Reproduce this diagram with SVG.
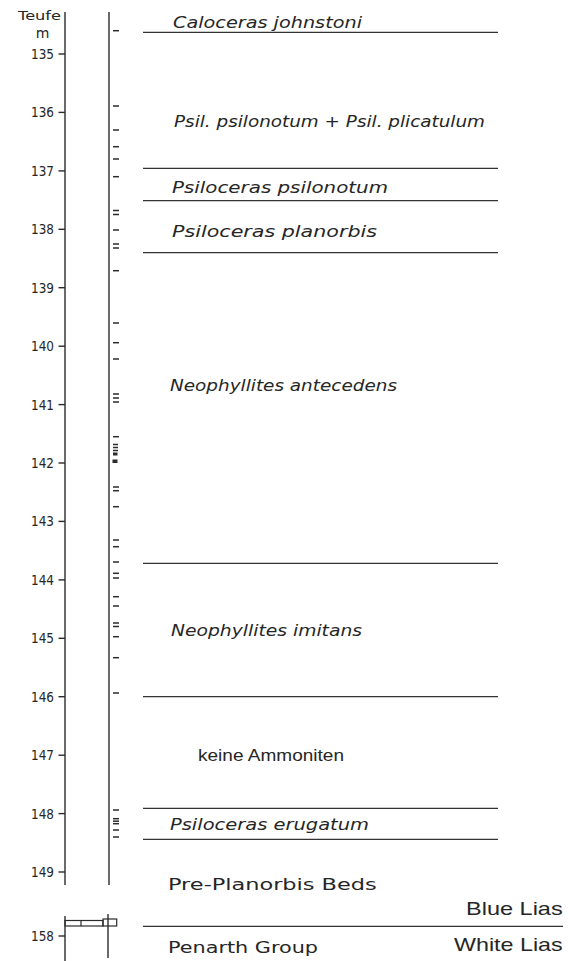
<svg xmlns="http://www.w3.org/2000/svg" width="568" height="961" viewBox="0 0 568 961">
<style>
.ax{stroke:#2b2b2b;stroke-width:1.4;fill:none}
.tk{stroke:#2b2b2b;stroke-width:1.4}
.ds{stroke:#2b2b2b;stroke-width:1.5}
.hl{stroke:#333;stroke-width:1.3}
.num{font-family:"DejaVu Sans","Liberation Sans",sans-serif;font-size:14px;fill:#262626;text-anchor:end}
.it{font-family:"DejaVu Sans","Liberation Sans",sans-serif;font-style:italic;font-size:15.5px;fill:#262626}
.up{font-family:"DejaVu Sans","Liberation Sans",sans-serif;font-size:16px;fill:#262626}
.hv{font-family:"Liberation Sans",Arial,sans-serif;fill:#262626}
</style>
<rect width="568" height="961" fill="#fff"/>
<g id="axis">
  <text x="18" y="20" class="num" style="text-anchor:start;font-size:13px" textLength="43" lengthAdjust="spacingAndGlyphs">Teufe</text>
  <text x="42.5" y="38" class="num" style="text-anchor:middle;font-size:14px">m</text>
  <line class="ax" x1="65" y1="12" x2="65" y2="885"/>
  <line class="ax" x1="109" y1="12" x2="109" y2="885"/>
  <g id="ticks">
    <line class="tk" x1="58.5" y1="54" x2="65" y2="54"/>
    <line class="tk" x1="58.5" y1="112.4" x2="65" y2="112.4"/>
    <line class="tk" x1="58.5" y1="170.9" x2="65" y2="170.9"/>
    <line class="tk" x1="58.5" y1="229.3" x2="65" y2="229.3"/>
    <line class="tk" x1="58.5" y1="287.7" x2="65" y2="287.7"/>
    <line class="tk" x1="58.5" y1="346.2" x2="65" y2="346.2"/>
    <line class="tk" x1="58.5" y1="404.6" x2="65" y2="404.6"/>
    <line class="tk" x1="58.5" y1="463" x2="65" y2="463"/>
    <line class="tk" x1="58.5" y1="521.4" x2="65" y2="521.4"/>
    <line class="tk" x1="58.5" y1="579.9" x2="65" y2="579.9"/>
    <line class="tk" x1="58.5" y1="638.3" x2="65" y2="638.3"/>
    <line class="tk" x1="58.5" y1="696.7" x2="65" y2="696.7"/>
    <line class="tk" x1="58.5" y1="755.2" x2="65" y2="755.2"/>
    <line class="tk" x1="58.5" y1="813.6" x2="65" y2="813.6"/>
    <line class="tk" x1="58.5" y1="872" x2="65" y2="872"/>
    <line class="tk" x1="58.5" y1="936" x2="65" y2="936"/>
  </g>
  <g id="tick-labels">
    <text class="num" x="54" y="59" textLength="23" lengthAdjust="spacingAndGlyphs">135</text>
    <text class="num" x="54" y="117.4" textLength="23" lengthAdjust="spacingAndGlyphs">136</text>
    <text class="num" x="54" y="175.9" textLength="23" lengthAdjust="spacingAndGlyphs">137</text>
    <text class="num" x="54" y="234.3" textLength="23" lengthAdjust="spacingAndGlyphs">138</text>
    <text class="num" x="54" y="292.7" textLength="23" lengthAdjust="spacingAndGlyphs">139</text>
    <text class="num" x="54" y="351.2" textLength="23" lengthAdjust="spacingAndGlyphs">140</text>
    <text class="num" x="54" y="409.6" textLength="23" lengthAdjust="spacingAndGlyphs">141</text>
    <text class="num" x="54" y="468" textLength="23" lengthAdjust="spacingAndGlyphs">142</text>
    <text class="num" x="54" y="526.4" textLength="23" lengthAdjust="spacingAndGlyphs">143</text>
    <text class="num" x="54" y="584.9" textLength="23" lengthAdjust="spacingAndGlyphs">144</text>
    <text class="num" x="54" y="643.3" textLength="23" lengthAdjust="spacingAndGlyphs">145</text>
    <text class="num" x="54" y="701.7" textLength="23" lengthAdjust="spacingAndGlyphs">146</text>
    <text class="num" x="54" y="760.2" textLength="23" lengthAdjust="spacingAndGlyphs">147</text>
    <text class="num" x="54" y="818.6" textLength="23" lengthAdjust="spacingAndGlyphs">148</text>
    <text class="num" x="54" y="877" textLength="23" lengthAdjust="spacingAndGlyphs">149</text>
    <text class="num" x="54" y="941" textLength="23" lengthAdjust="spacingAndGlyphs">158</text>
  </g>
</g>
<g id="lower-column">
  <line class="ax" x1="65" y1="916" x2="65" y2="961"/>
  <line class="ax" x1="108" y1="914" x2="108" y2="958"/>
  <rect class="ax" x="65" y="920.5" width="38" height="5.5" style="stroke-width:1.2"/>
  <rect class="ax" x="103" y="919" width="13.7" height="7" style="stroke-width:1.2"/>
  <line class="ax" x1="81" y1="920.5" x2="81" y2="926" style="stroke-width:1.2"/>
</g>
<g id="samples">
  <g class="ds">
    <line x1="113" y1="30.7" x2="119" y2="30.7"/>
    <line x1="113" y1="106" x2="119" y2="106"/>
    <line x1="113" y1="130" x2="119" y2="130"/>
    <line x1="113" y1="146.7" x2="119" y2="146.7"/>
    <line x1="113" y1="159" x2="119" y2="159"/>
    <line x1="113" y1="176.7" x2="119" y2="176.7"/>
    <line x1="113" y1="210.5" x2="119" y2="210.5"/>
    <line x1="113" y1="214.5" x2="119" y2="214.5"/>
    <line x1="113" y1="230" x2="119" y2="230"/>
    <line x1="113" y1="244" x2="119" y2="244"/>
    <line x1="113" y1="248" x2="119" y2="248"/>
    <line x1="113" y1="270.7" x2="119" y2="270.7"/>
    <line x1="113" y1="323" x2="119" y2="323"/>
    <line x1="113" y1="342.7" x2="119" y2="342.7"/>
    <line x1="113" y1="359" x2="119" y2="359"/>
    <line x1="113" y1="394" x2="119" y2="394"/>
    <line x1="113" y1="398" x2="119" y2="398"/>
    <line x1="113" y1="402" x2="119" y2="402"/>
    <line x1="113" y1="436.7" x2="119" y2="436.7"/>
    <line x1="113" y1="444.5" x2="118" y2="444.5"/>
    <line x1="113" y1="447.5" x2="118" y2="447.5"/>
    <line x1="113" y1="450.5" x2="118" y2="450.5"/>
    <line x1="113" y1="487" x2="119" y2="487"/>
    <line x1="113" y1="490.7" x2="119" y2="490.7"/>
    <line x1="113" y1="506.7" x2="119" y2="506.7"/>
    <line x1="113" y1="540" x2="119" y2="540"/>
    <line x1="113" y1="546.7" x2="119" y2="546.7"/>
    <line x1="113" y1="562" x2="119" y2="562"/>
    <line x1="113" y1="573.3" x2="119" y2="573.3"/>
    <line x1="113" y1="578" x2="119" y2="578"/>
    <line x1="113" y1="596.7" x2="119" y2="596.7"/>
    <line x1="113" y1="606" x2="119" y2="606"/>
    <line x1="113" y1="623" x2="119" y2="623"/>
    <line x1="113" y1="626.5" x2="119" y2="626.5"/>
    <line x1="113" y1="636.7" x2="119" y2="636.7"/>
    <line x1="113" y1="657.7" x2="119" y2="657.7"/>
    <line x1="113" y1="693" x2="119" y2="693"/>
    <line x1="113" y1="810" x2="119" y2="810"/>
    <line x1="113" y1="818.7" x2="119" y2="818.7"/>
    <line x1="113" y1="821.2" x2="119" y2="821.2"/>
    <line x1="113" y1="823.7" x2="119" y2="823.7"/>
    <line x1="113" y1="830" x2="119" y2="830"/>
    <line x1="113" y1="837" x2="119" y2="837"/>
  </g>
  <rect x="113" y="452.5" width="4.5" height="3" fill="#2b2b2b"/>
  <rect x="112.5" y="459.5" width="5" height="3.5" fill="#2b2b2b"/>
</g>
<g id="boundaries">
  <line class="hl" x1="143" y1="32.3" x2="498" y2="32.3"/>
  <line class="hl" x1="143" y1="168.3" x2="498" y2="168.3"/>
  <line class="hl" x1="143" y1="200.7" x2="498" y2="200.7"/>
  <line class="hl" x1="143" y1="252.7" x2="498" y2="252.7"/>
  <line class="hl" x1="143" y1="563.3" x2="498" y2="563.3"/>
  <line class="hl" x1="143" y1="696.7" x2="498" y2="696.7"/>
  <line class="hl" x1="143" y1="808.3" x2="498" y2="808.3"/>
  <line class="hl" x1="143" y1="839.3" x2="498" y2="839.3"/>
  <line class="hl" x1="143" y1="926.3" x2="563" y2="926.3"/>
</g>
<g id="zone-johnstoni"><text class="it" x="173" y="28" textLength="189" lengthAdjust="spacingAndGlyphs">Caloceras johnstoni</text></g>
<g id="zone-psilonotum-plicatulum"><text class="it" x="174" y="126.7" textLength="311" lengthAdjust="spacingAndGlyphs">Psil. psilonotum + Psil. plicatulum</text></g>
<g id="zone-psilonotum"><text class="it" x="172" y="192.7" textLength="216" lengthAdjust="spacingAndGlyphs">Psiloceras psilonotum</text></g>
<g id="zone-planorbis"><text class="it" x="172" y="237.3" textLength="205" lengthAdjust="spacingAndGlyphs">Psiloceras planorbis</text></g>
<g id="zone-antecedens"><text class="it" x="170" y="390.7" textLength="227" lengthAdjust="spacingAndGlyphs">Neophyllites antecedens</text></g>
<g id="zone-imitans"><text class="it" x="171" y="636" textLength="191" lengthAdjust="spacingAndGlyphs">Neophyllites imitans</text></g>
<g id="zone-keine"><text class="hv" x="198" y="761" font-size="17" textLength="146" lengthAdjust="spacingAndGlyphs">keine Ammoniten</text></g>
<g id="zone-erugatum"><text class="it" x="170" y="830" textLength="199" lengthAdjust="spacingAndGlyphs">Psiloceras erugatum</text></g>
<g id="unit-pre-planorbis"><text class="up" x="168" y="890" font-size="17" textLength="208.7" lengthAdjust="spacingAndGlyphs">Pre-Planorbis Beds</text></g>
<g id="unit-penarth"><text class="up" x="168" y="953.3" textLength="150" lengthAdjust="spacingAndGlyphs">Penarth Group</text></g>
<g id="unit-blue-lias"><text class="hv" x="466" y="915" font-size="18.5" textLength="96.7" lengthAdjust="spacingAndGlyphs">Blue Lias</text></g>
<g id="unit-white-lias"><text class="hv" x="454" y="950.7" font-size="18.5" textLength="108.7" lengthAdjust="spacingAndGlyphs">White Lias</text></g>
</svg>
